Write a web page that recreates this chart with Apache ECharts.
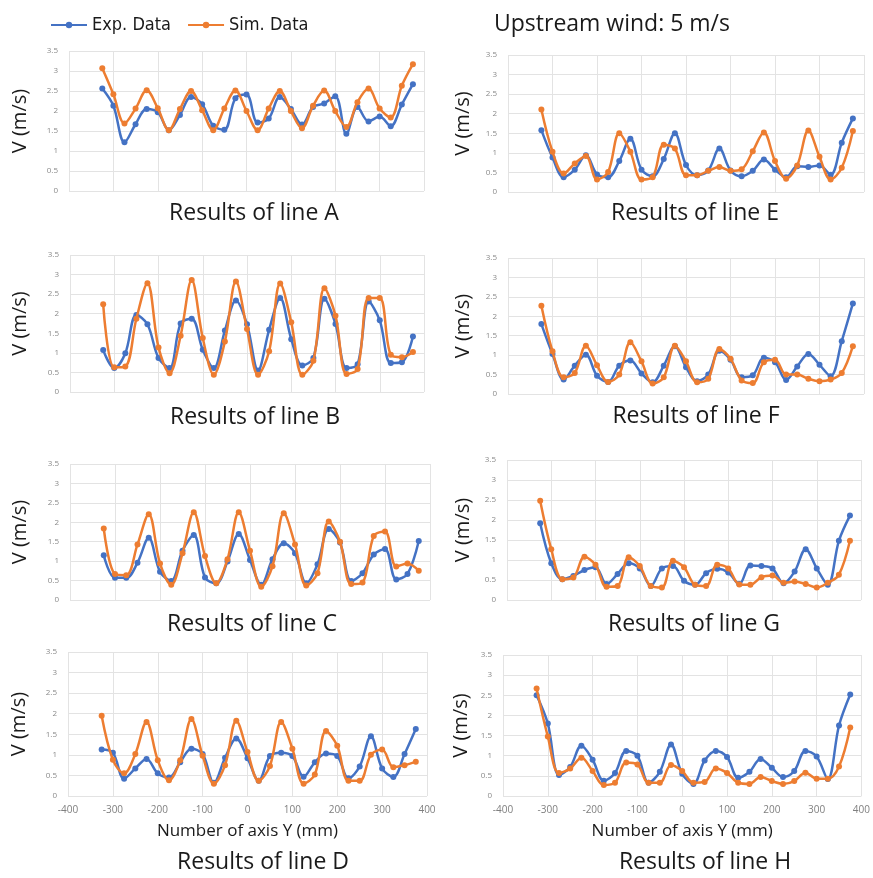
<!DOCTYPE html>
<html>
<head>
<meta charset="utf-8">
<script src="https://cdn.jsdelivr.net/npm/echarts@6/dist/echarts.min.js"></script>
<style>
  html, body { margin: 0; padding: 0; background: #fff; }
  #chart { width: 873px; height: 878px; }
</style>
</head>
<body>
<div id="chart"></div>
<script>
// positions along axis Y (mm)
const yPos = [-325, -300, -275, -250, -225, -200, -175, -150, -125, -100, -75, -50, -25, 0,
  25, 50, 75, 100, 125, 150, 175, 200, 225, 250, 275, 300, 325, 350, 375];

const xTicks = [-400, -300, -200, -100, 0, 100, 200, 300, 400];
const yTicks = [0, 0.5, 1, 1.5, 2, 2.5, 3, 3.5];

const expA = [2.56, 2.13, 1.22, 1.67, 2.05, 1.97, 1.52, 1.9, 2.35, 2.17, 1.63, 1.53, 2.32, 2.41, 1.71, 1.81, 2.35, 2.05, 1.66, 2.1, 2.19, 2.37, 1.43, 2.1, 1.74, 1.86, 1.62, 2.16, 2.67];
const simA = [3.07, 2.42, 1.69, 2.06, 2.52, 2.07, 1.52, 2.05, 2.5, 2.02, 1.52, 2.06, 2.51, 2.0, 1.52, 2.06, 2.5, 2.0, 1.57, 2.13, 2.51, 2.0, 1.6, 2.22, 2.56, 2.06, 1.84, 2.63, 3.17];

const expB = [1.07, 0.61, 0.99, 1.97, 1.73, 0.87, 0.61, 1.75, 1.87, 1.08, 0.61, 1.57, 2.34, 1.73, 0.55, 1.59, 2.4, 1.35, 0.68, 0.87, 2.38, 1.74, 0.61, 0.71, 2.31, 1.83, 0.74, 0.76, 1.42];
const simB = [2.24, 0.63, 0.65, 1.87, 2.78, 1.14, 0.48, 1.44, 2.86, 1.38, 0.44, 1.29, 2.82, 1.61, 0.44, 1.04, 2.77, 1.78, 0.44, 0.8, 2.65, 1.95, 0.46, 0.59, 2.4, 2.4, 0.95, 0.89, 1.02];

const expC = [1.15, 0.57, 0.57, 0.96, 1.6, 0.73, 0.49, 1.27, 1.67, 0.58, 0.43, 0.99, 1.7, 1.03, 0.39, 1.05, 1.46, 1.2, 0.43, 0.92, 1.83, 1.48, 0.49, 0.69, 1.17, 1.31, 0.53, 0.67, 1.52];
const simC = [1.84, 0.67, 0.64, 1.43, 2.21, 0.94, 0.39, 1.2, 2.26, 1.13, 0.43, 1.05, 2.26, 1.27, 0.34, 0.87, 2.23, 1.43, 0.37, 0.69, 2.02, 1.5, 0.41, 0.45, 1.65, 1.76, 0.86, 0.94, 0.75];

const expD = [1.13, 1.05, 0.42, 0.67, 0.9, 0.55, 0.45, 0.82, 1.15, 1.02, 0.32, 0.93, 1.4, 0.92, 0.37, 0.97, 1.05, 0.97, 0.47, 0.82, 1.03, 0.97, 0.43, 0.72, 1.45, 0.67, 0.46, 1.02, 1.63];
const simD = [1.95, 0.88, 0.55, 1.02, 1.8, 0.87, 0.38, 0.87, 1.87, 0.98, 0.3, 0.75, 1.83, 1.07, 0.37, 0.73, 1.8, 1.15, 0.3, 0.52, 1.58, 1.22, 0.37, 0.37, 1.0, 1.13, 0.7, 0.75, 0.83];

const expE = [1.58, 0.88, 0.38, 0.57, 0.94, 0.45, 0.38, 0.79, 1.36, 0.57, 0.4, 0.84, 1.5, 0.69, 0.43, 0.55, 1.11, 0.55, 0.4, 0.54, 0.83, 0.57, 0.38, 0.66, 0.64, 0.68, 0.44, 1.26, 1.88];
const simE = [2.11, 1.03, 0.47, 0.73, 0.92, 0.32, 0.51, 1.5, 1.03, 0.32, 0.38, 1.21, 1.11, 0.43, 0.43, 0.54, 0.64, 0.54, 0.58, 1.04, 1.52, 0.79, 0.34, 0.68, 1.57, 0.9, 0.32, 0.62, 1.56];

const expF = [1.8, 1.03, 0.37, 0.73, 1.01, 0.47, 0.31, 0.73, 0.86, 0.53, 0.3, 0.73, 1.23, 0.69, 0.33, 0.5, 1.11, 0.88, 0.43, 0.48, 0.93, 0.82, 0.36, 0.71, 1.03, 0.75, 0.46, 1.36, 2.33];
const simF = [2.27, 1.1, 0.43, 0.54, 1.24, 0.74, 0.31, 0.5, 1.33, 0.84, 0.27, 0.43, 1.24, 0.84, 0.3, 0.39, 1.16, 0.91, 0.35, 0.28, 0.82, 0.88, 0.5, 0.5, 0.39, 0.33, 0.37, 0.54, 1.23];

const expG = [1.92, 0.92, 0.52, 0.6, 0.75, 0.82, 0.4, 0.65, 0.92, 0.79, 0.35, 0.79, 0.85, 0.48, 0.38, 0.67, 0.78, 0.69, 0.4, 0.86, 0.85, 0.79, 0.42, 0.71, 1.27, 0.79, 0.38, 1.48, 2.11];
const simG = [2.48, 1.27, 0.52, 0.56, 1.08, 0.88, 0.33, 0.35, 1.07, 0.85, 0.35, 0.31, 0.98, 0.82, 0.38, 0.35, 0.88, 0.79, 0.39, 0.38, 0.57, 0.61, 0.43, 0.46, 0.4, 0.31, 0.43, 0.63, 1.48];

const expH = [2.5, 1.8, 0.52, 0.72, 1.25, 0.9, 0.38, 0.57, 1.12, 1.0, 0.33, 0.6, 1.28, 0.55, 0.3, 0.88, 1.12, 0.97, 0.45, 0.6, 0.92, 0.7, 0.47, 0.62, 1.12, 0.98, 0.42, 1.75, 2.52];
const simH = [2.67, 1.48, 0.57, 0.68, 0.95, 0.62, 0.27, 0.33, 0.83, 0.78, 0.33, 0.33, 0.77, 0.62, 0.33, 0.35, 0.68, 0.57, 0.33, 0.3, 0.47, 0.37, 0.3, 0.37, 0.58, 0.43, 0.43, 0.73, 1.7];

const BLUE = '#4472C4';
const ORANGE = '#ED7D31';

// one panel per measuring line
const panels = [
  { name: 'A', exp: expA, sim: simA, box: [69, 51, 355, 140], title: [249, 197], axisX: false, yName: 39 },
  { name: 'E', exp: expE, sim: simE, box: [508, 55, 356, 137], title: [690, 197], axisX: false, yName: 35 },
  { name: 'B', exp: expB, sim: simB, box: [70, 255, 354, 137], title: [250, 401], axisX: false, yName: 40 },
  { name: 'F', exp: expF, sim: simF, box: [508, 258, 356, 136], title: [691, 400], axisX: false, yName: 35 },
  { name: 'C', exp: expC, sim: simC, box: [70, 464, 360, 136], title: [247, 608], axisX: false, yName: 40 },
  { name: 'G', exp: expG, sim: simG, box: [507, 460, 354, 140], title: [689, 608], axisX: false, yName: 34 },
  { name: 'D', exp: expD, sim: simD, box: [68, 652, 359, 144], title: [258, 846], axisX: true, yName: 39 },
  { name: 'H', exp: expH, sim: simH, box: [503, 655, 360, 141], title: [700, 846], axisX: true, yName: 32 }
];

const font = '"Open Sans", "Noto Sans", sans-serif';
const grid = [], xAxis = [], yAxis = [], series = [];
const title = [{
  text: 'Upstream wind: 5 m/s',
  left: 489, top: 8,
  textStyle: { fontFamily: font, fontSize: 23, fontWeight: 'normal', color: '#1a1a1a' }
}];

panels.forEach((p, i) => {
  const [l, t, w, h] = p.box;
  grid.push({ left: l, top: t, width: w, height: h, containLabel: false });
  xAxis.push({
    type: 'value', gridIndex: i,
    min: xTicks[0], max: xTicks[xTicks.length - 1], interval: 100,
    axisLine: { show: false }, axisTick: { show: false },
    axisLabel: { show: p.axisX, color: '#7f7f7f', fontSize: 10, fontFamily: font, margin: 9 },
    splitLine: { show: true, lineStyle: { color: '#e3e3e3', width: 1 } },
    name: p.axisX ? 'Number of axis Y (mm)' : '',
    nameLocation: 'middle', nameGap: 27,
    nameTextStyle: { fontFamily: font, fontSize: 17, color: '#1a1a1a' }
  });
  yAxis.push({
    type: 'value', gridIndex: i,
    min: yTicks[0], max: yTicks[yTicks.length - 1], interval: 0.5,
    axisLine: { show: false }, axisTick: { show: false },
    axisLabel: { color: '#8a8a8a', fontSize: 8, fontFamily: font, margin: 11 },
    splitLine: { show: true, lineStyle: { color: '#e3e3e3', width: 1 } },
    name: 'V (m/s)', nameLocation: 'middle', nameGap: p.yName, nameRotate: 90,
    nameTextStyle: { fontFamily: font, fontSize: 20, color: '#1a1a1a' }
  });
  title.push({
    text: 'Results of line ' + p.name,
    left: p.title[0], top: p.title[1], textAlign: 'center',
    textStyle: { fontFamily: font, fontSize: 23, fontWeight: 'normal', color: '#1a1a1a' }
  });
  [['Exp. Data', p.exp, BLUE], ['Sim. Data', p.sim, ORANGE]].forEach(([name, vals, color]) => {
    series.push({
      name, type: 'line', xAxisIndex: i, yAxisIndex: i,
      data: yPos.map((x, k) => [x, vals[k]]),
      smooth: 0.35,
      symbol: 'circle', symbolSize: 6,
      itemStyle: { color },
      lineStyle: { color, width: 2.5 },
      z: name === 'Exp. Data' ? 2 : 3,
      animation: false
    });
  });
});

const chart = echarts.init(document.getElementById('chart'));
chart.setOption({
  backgroundColor: '#fff',
  animation: false,
  title,
  legend: {
    data: ['Exp. Data', 'Sim. Data'],
    left: 45, top: 11,
    itemWidth: 36, itemHeight: 8, itemGap: 16,
    textStyle: { fontFamily: '"DejaVu Sans Condensed", Lato, sans-serif', fontSize: 18, color: '#1a1a1a' }
  },
  grid, xAxis, yAxis, series
});
</script>
</body>
</html>
